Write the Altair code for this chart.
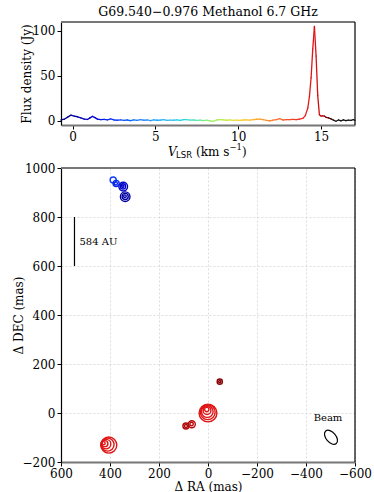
import altair as alt
import pandas as pd

FONT = "DejaVu Serif"

# ---- 6.7 GHz methanol spectrum (velocity in km/s, flux density in Jy)
vel = [-0.7, -0.5, -0.3, -0.1, 0.1, 0.3, 0.5, 0.7, 0.9, 1.05, 1.2, 1.35, 1.5, 1.7, 1.9,
       2.1, 2.3, 2.5, 2.7, 2.9, 3.1, 3.3, 3.5, 3.7, 3.9, 4.1, 4.3, 4.5, 4.7, 4.9,
       5.1, 5.3, 5.5, 5.7, 5.9, 6.1, 6.3, 6.5, 6.7, 6.9, 7.1, 7.3, 7.5, 7.7, 7.9,
       8.1, 8.3, 8.5, 8.7, 8.9, 9.1, 9.3, 9.5, 9.7, 9.9, 10.1, 10.3, 10.5, 10.7, 10.9,
       11.1, 11.3, 11.5, 11.7, 11.9, 12.1, 12.3, 12.5, 12.7, 12.9, 13.1, 13.3, 13.5, 13.7, 13.9,
       14.05, 14.2, 14.3, 14.4, 14.5, 14.6, 14.7, 14.8, 14.9, 15.0, 15.1, 15.2, 15.3, 15.45, 15.6,
       15.75, 15.9, 16.05, 16.2, 16.35, 16.5, 16.65, 16.8, 16.95, 17.05]
flux = [0.6, 1.5, 3.8, 6.0, 5.0, 4.2, 3.0, 1.6, 1.2, 3.0, 4.6, 3.2, 1.5, 0.9, 1.3,
        0.7, 1.8, 0.6, 0.3, 0.8, 0.2, 0.6, 0.0, 0.7, 0.1, 0.9, 0.3, 0.6, -0.1, 0.7,
        0.3, 0.5, 0.9, 0.2, 0.5, 0.3, 0.7, 0.2, 0.9, 1.1, 0.4, 0.6, 0.1, 0.5, -0.1,
        0.4, -0.4, -0.9, 0.6, 1.0, 0.7, 0.3, 0.8, 0.2, 0.5, 0.1, 0.6, 0.8, 0.4, 1.0,
        1.4, 1.6, 0.9, 0.1, -0.5, 0.5, 0.9, 2.2, 0.6, 1.0, 0.9, 1.3, 1.0, 1.6, 2.4,
        5.5, 14.0, 27.0, 48.0, 80.0, 105.0, 72.0, 28.0, 6.5, 5.0, 5.2, 5.0, 3.6, 3.0, 1.8,
        0.4, -0.8, 0.6, -0.3, 0.8, -0.2, 0.5, 0.1, 0.9, 0.3]

# ---- maser spot rings: offsets (mas), velocity (km/s), ring radius (mas)
ring_ra = [0, 1, 3, 4, 5,
           405, 410, 416, 421, 426,
           90, 90, 66, 67,
           -48, -48,
           387, 375, 376,
           346, 347, 348,
           338, 338, 339]
ring_dec = [0, 3, 6, 10, 14,
            -131, -129, -127, -125, -123,
            -53, -53, -46, -45,
            128, 128,
            951, 937, 937,
            924, 925, 926,
            883, 884, 885]
ring_vel = [14.6, 14.6, 14.6, 14.6, 14.6,
            14.5, 14.5, 14.5, 14.5, 14.5,
            15.1, 15.1, 15.0, 15.0,
            15.3, 15.3,
            2.6, 2.0, 2.0,
            1.0, 1.0, 1.0,
            0.2, 0.2, 0.2]
ring_rad = [41, 34, 27, 18, 10,
            37, 30, 22, 14, 7,
            14, 7, 16, 8,
            12, 5,
            14, 14, 7,
            20, 12, 5,
            22, 14, 6]

# ---- scale bar and beam
bar_ra = [545]
bar_dec = [600]
bar_dec2 = [800]
bar_label = ["584 AU"]
beam_ra = [-502]
beam_dec = [-99]

# colour ramp shared by the spectrum and the spots
vel_stops = [-0.7, 0.5, 1.5, 3.0, 4.5, 6.0, 7.2, 8.0, 9.0, 10.0, 11.0, 12.0, 13.0,
             14.0, 14.7, 15.1, 15.5, 15.9, 17.2]
vel_colors = ["#00007a", "#0000b0", "#0000e0", "#1a4cff", "#3a90ff", "#40c0f0", "#50e0c0",
              "#80f080", "#b8ec50", "#f0d830", "#ffb030", "#ff8030", "#f55030",
              "#e82020", "#dd1010", "#b00808", "#600000", "#111111", "#111111"]
vscale = alt.Scale(domain=vel_stops, range=vel_colors, clamp=True)

spec = pd.DataFrame({"v": vel, "f": flux})
seg = spec.copy()
seg["v2"] = spec["v"].shift(-1)
seg["f2"] = spec["f"].shift(-1)
seg = seg.dropna()
seg["vc"] = (seg["v"] + seg["v2"]) / 2

W = 294
H1 = 103
H2 = 294

AX = dict(labelFont=FONT, titleFont=FONT, labelFontSize=12, titleFontSize=12,
          titleFontWeight="normal", labelColor="#000000", titleColor="#000000",
          tickColor="#000000", tickSize=4, labelPadding=2, format="d")

# ------------------------ spectrum panel
xs = alt.Scale(domain=[-0.7, 17.05], nice=False, zero=False)
ys = alt.Scale(domain=[-5, 110], nice=False, zero=False)

spec_line = alt.Chart(seg).mark_rule(strokeWidth=1.3, strokeCap="round").encode(
    x=alt.X("v:Q", scale=xs,
            axis=alt.Axis(values=[0, 5, 10, 15], title=None, grid=False,
                          domainColor="#777777", domainWidth=2, **AX)),
    x2="v2:Q",
    y=alt.Y("f:Q", scale=ys,
            axis=alt.Axis(values=[0, 50, 100], title="Flux density (Jy)", grid=False,
                          domainColor="#000000", domainWidth=1.2,
                          titleX=-35, titleBaseline="middle", **AX)),
    y2="f2:Q",
    color=alt.Color("vc:Q", scale=vscale, legend=None),
)

one = pd.DataFrame({"k": [0]})
frame_top = alt.Chart(one).mark_rule(color="#777777", strokeWidth=2).encode(
    x=alt.value(0), x2=alt.value(W), y=alt.value(0))
frame_right = alt.Chart(one).mark_rule(color="#000000", strokeWidth=1.2).encode(
    x=alt.value(W), y=alt.value(0), y2=alt.value(H1))

title_txt = alt.Chart(one).mark_text(
    text="G69.540\u22120.976  Methanol 6.7 GHz", font=FONT, fontSize=12.5,
    align="center", baseline="alphabetic", color="#000000").encode(
    x=alt.value(W / 2), y=alt.value(-6))

# x-axis title: V_LSR (km s^-1)
t_v = alt.Chart(one).mark_text(text="V", font=FONT, fontSize=12, fontStyle="italic",
                               align="left", baseline="alphabetic").encode(
    x=alt.value(107), y=alt.value(134))
t_lsr = alt.Chart(one).mark_text(text="LSR", font="DejaVu Sans", fontSize=8.5,
                                 align="left", baseline="alphabetic").encode(
    x=alt.value(115), y=alt.value(136))
t_unit = alt.Chart(one).mark_text(text="(km s", font=FONT, fontSize=12,
                                  align="left", baseline="alphabetic").encode(
    x=alt.value(135), y=alt.value(134))
t_exp = alt.Chart(one).mark_text(text="\u22121", font=FONT, fontSize=8.5,
                                 align="left", baseline="alphabetic").encode(
    x=alt.value(168.5), y=alt.value(128))
t_close = alt.Chart(one).mark_text(text=")", font=FONT, fontSize=12,
                                   align="left", baseline="alphabetic").encode(
    x=alt.value(181), y=alt.value(134))

top = alt.layer(spec_line, frame_top, frame_right, title_txt,
                t_v, t_lsr, t_unit, t_exp, t_close).properties(width=W, height=H1)

# ------------------------ spot map panel
ras = alt.Scale(domain=[600, -600], nice=False, zero=False)
decs = alt.Scale(domain=[-200, 1000], nice=False, zero=False)
px_per_mas = W / 1200.0
size_scale = alt.Scale(type="pow", exponent=2, domain=[0, 40],
                       range=[0, 3.14159 * (40 * px_per_mas) ** 2])

spots = pd.DataFrame({"ra": ring_ra, "dec": ring_dec, "v": ring_vel, "r": ring_rad})
spots = spots.sort_values("r", ascending=False, kind="stable")

xaxis = alt.Axis(values=[600, 400, 200, 0, -200, -400, -600], title="\u0394 RA (mas)",
                 grid=True, gridColor="#d4d4d4", gridDash=[2, 2], gridWidth=0.8,
                 domainColor="#777777", domainWidth=2,
                 labelOverlap=False, labelFlush=False, titlePadding=2, **AX)
yaxis = alt.Axis(values=[-200, 0, 200, 400, 600, 800, 1000], title="\u0394 DEC (mas)",
                 grid=True, gridColor="#d4d4d4", gridDash=[2, 2], gridWidth=0.8,
                 domainColor="#000000", domainWidth=1.2,
                 labelOverlap=False, labelFlush=False,
                 titleX=-43, titleBaseline="middle", **AX)

spot_marks = alt.Chart(spots).mark_point(filled=False, strokeWidth=1.4, opacity=1).encode(
    x=alt.X("ra:Q", scale=ras, axis=xaxis),
    y=alt.Y("dec:Q", scale=decs, axis=yaxis),
    size=alt.Size("r:Q", scale=size_scale, legend=None),
    color=alt.Color("v:Q", scale=vscale, legend=None),
)

bar_df = pd.DataFrame({"ra": bar_ra, "dec": bar_dec, "dec2": bar_dec2, "label": bar_label})
bar = alt.Chart(bar_df).mark_rule(color="#000000", strokeWidth=1.2).encode(
    x=alt.X("ra:Q", scale=ras), y=alt.Y("dec:Q", scale=decs), y2="dec2:Q")
bar_txt = alt.Chart(bar_df).mark_text(font=FONT, fontSize=10, align="left",
                                      baseline="middle", dx=5, dy=0).encode(
    x=alt.X("ra:Q", scale=ras), y=alt.Y("mid:Q", scale=decs), text="label:N"
).transform_calculate(mid="(datum.dec + datum.dec2) / 2")

beam_df = pd.DataFrame({"ra": beam_ra, "dec": beam_dec, "label": ["Beam"]})
ellipse = "M -1 0 A 1 0.6 0 1 1 1 0 A 1 0.6 0 1 1 -1 0 Z"
beam = alt.Chart(beam_df).mark_point(shape=ellipse, filled=False, color="#000000",
                                     strokeWidth=1.2, size=270, angle=50, opacity=1).encode(
    x=alt.X("ra:Q", scale=ras), y=alt.Y("dec:Q", scale=decs))
beam_txt = alt.Chart(beam_df).mark_text(font=FONT, fontSize=10, align="center",
                                        baseline="alphabetic", dx=-3, dy=-16).encode(
    x=alt.X("ra:Q", scale=ras), y=alt.Y("dec:Q", scale=decs), text="label:N")

frame_top2 = alt.Chart(one).mark_rule(color="#777777", strokeWidth=2).encode(
    x=alt.value(0), x2=alt.value(W), y=alt.value(0))
frame_right2 = alt.Chart(one).mark_rule(color="#000000", strokeWidth=1.2).encode(
    x=alt.value(W), y=alt.value(0), y2=alt.value(H2))

bottom = alt.layer(spot_marks, bar, bar_txt, beam, beam_txt, frame_top2, frame_right2
                   ).properties(width=W, height=H2)

chart = alt.vconcat(top, bottom, spacing=43, bounds="flush").properties(
    padding={"left": 12, "top": 6, "right": 0, "bottom": 0}
).configure(background="white").configure_view(stroke=None)

chart.save("out.html", embed_options={"renderer": "svg", "actions": False})
